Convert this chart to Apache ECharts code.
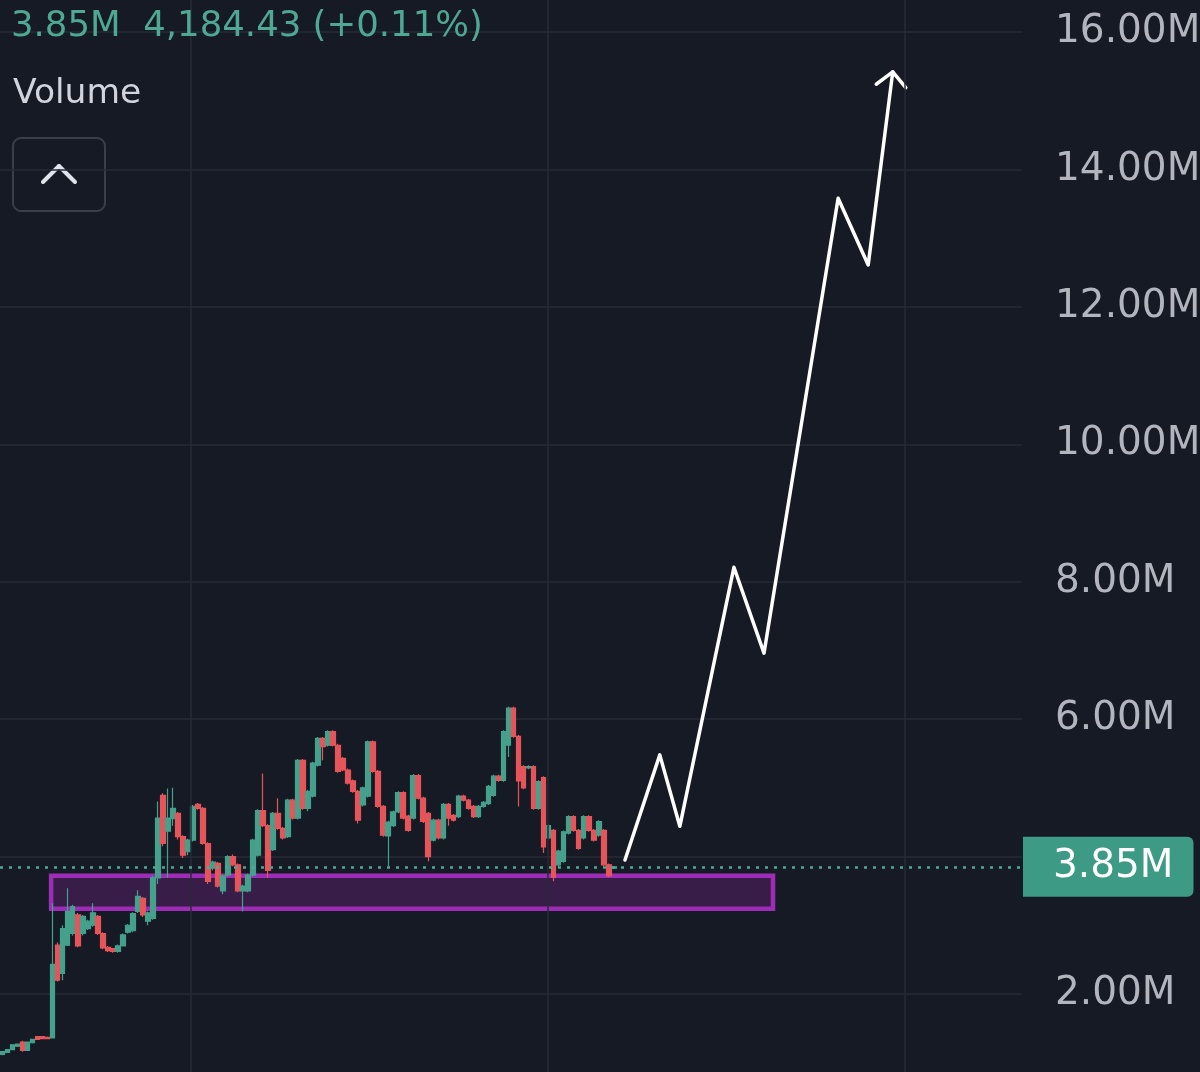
<!DOCTYPE html>
<html>
<head>
<meta charset="utf-8">
<script src="https://cdn.jsdelivr.net/npm/echarts@6/dist/echarts.min.js"></script>
<style>
html,body{margin:0;padding:0;background:#161a25;}
#chart{width:1200px;height:1072px;}
</style>
</head>
<body>
<div id="chart"></div>
<script>
// ---- data (values in millions) ----
// candles: [open, close, low, high]
const ohlc = [
[1.12,1.16,1.11,1.17],[1.15,1.19,1.14,1.20],[1.19,1.26,1.18,1.27],[1.24,1.27,1.23,1.28],
[1.30,1.18,1.16,1.32],[1.18,1.30,1.17,1.31],[1.29,1.34,1.28,1.35],[1.38,1.34,1.33,1.39],
[1.38,1.35,1.34,1.38],[1.37,1.35,1.34,1.38],[1.36,2.43,1.36,3.32],[2.71,2.20,2.18,2.75],
[2.30,2.95,2.20,3.00],[2.71,3.20,2.70,3.54],[2.88,3.27,2.85,3.30],[3.15,2.70,2.68,3.18],
[2.88,3.13,2.85,3.15],[2.95,3.06,2.93,3.08],[3.00,3.18,2.98,3.32],[3.13,2.88,2.86,3.15],
[2.88,2.67,2.65,2.90],[2.68,2.63,2.61,2.70],[2.66,2.62,2.60,2.67],[2.62,2.70,2.60,2.72],
[2.70,2.86,2.69,2.88],[2.90,3.00,2.88,3.02],[2.92,3.17,2.90,3.19],[3.20,3.42,3.18,3.51],
[3.39,3.15,3.12,3.41],[3.06,3.18,3.00,3.20],[3.10,3.69,3.08,3.72],[3.69,4.56,3.60,4.80],
[4.89,4.19,4.15,4.92],[4.37,4.56,3.69,4.99],[4.55,4.70,4.45,5.00],[4.63,4.29,4.25,4.65],
[4.29,4.02,3.98,4.31],[4.07,4.24,4.02,4.26],[4.24,4.73,4.22,4.75],[4.76,4.70,4.68,4.78],
[4.70,4.19,4.17,4.72],[4.19,3.64,3.60,4.21],[3.83,3.92,3.80,3.94],[3.90,3.57,3.55,3.92],
[3.50,3.72,3.45,3.74],[3.73,4.00,3.71,4.02],[4.00,3.88,3.86,4.03],[3.88,3.50,3.48,3.90],
[3.50,3.57,3.20,3.59],[3.50,3.73,3.48,3.75],[3.73,4.24,3.71,4.26],[4.02,4.67,4.00,4.69],
[4.67,4.45,4.43,5.21],[4.45,3.80,3.69,4.47],[4.10,4.63,4.08,4.65],[4.63,4.41,4.39,4.85],
[4.41,4.27,4.25,4.43],[4.29,4.82,4.27,4.84],[4.82,4.56,4.54,4.84],[4.56,5.40,4.54,5.42],
[5.40,4.70,4.68,5.42],[4.70,4.95,4.66,4.97],[4.88,5.36,4.86,5.38],[5.33,5.72,5.31,5.74],
[5.72,5.60,5.40,5.74],[5.62,5.82,5.60,5.84],[5.82,5.62,5.60,5.84],[5.62,5.24,5.22,5.64],
[5.43,5.26,5.24,5.45],[5.26,5.07,5.05,5.28],[5.10,4.95,4.93,5.12],[4.95,4.53,4.48,4.97],
[4.75,5.00,4.73,5.02],[4.88,5.67,4.86,5.69],[5.67,5.24,5.22,5.69],[5.24,4.73,4.71,5.26],
[4.73,4.31,4.29,4.75],[4.30,4.50,3.86,4.52],[4.45,4.65,4.43,4.67],[4.65,4.93,4.63,4.95],
[4.93,4.56,4.54,4.95],[4.59,4.38,4.36,4.61],[4.56,5.18,4.54,5.20],[5.18,4.85,4.83,5.20],
[4.85,4.51,4.49,4.87],[4.63,4.00,3.93,4.65],[4.24,4.53,4.22,4.55],[4.53,4.27,4.25,4.55],
[4.27,4.76,4.25,4.78],[4.76,4.56,4.45,4.78],[4.60,4.53,4.51,4.62],[4.58,4.88,4.56,4.90],
[4.88,4.82,4.80,4.90],[4.82,4.70,4.68,4.84],[4.73,4.58,4.56,4.75],[4.58,4.73,4.56,4.75],
[4.73,4.79,4.71,4.81],[4.77,5.02,4.75,5.04],[4.89,5.17,4.87,5.19],[5.17,5.11,5.09,5.19],
[5.11,5.82,5.09,5.84],[5.62,6.16,5.45,6.18],[6.16,5.75,5.73,6.18],[5.75,5.10,4.73,5.77],
[5.31,5.00,4.98,5.33],[5.29,5.31,5.27,5.33],[5.31,4.70,4.68,5.33],[4.70,5.09,4.68,5.11],
[5.15,4.14,4.05,5.17],[4.27,4.45,4.25,4.47],[4.38,3.70,3.64,4.40],[3.88,4.08,3.84,4.10],
[3.93,4.36,3.91,4.38],[4.34,4.58,4.32,4.60],[4.58,4.38,4.36,4.60],[4.38,4.12,4.10,4.40],
[4.27,4.58,4.25,4.60],[4.58,4.38,4.36,4.60],[4.38,4.24,4.22,4.40],[4.31,4.51,4.29,4.53],
[4.38,3.88,3.86,4.40],[3.88,3.72,3.70,3.90],[3.83,3.85,3.82,3.86]
];
const slotCount = 204;                       // bar slots on the time axis
const categories = Array.from({length: slotCount}, (_, i) => String(i));
const yTicks = [2, 4, 6, 8, 10, 12, 14, 16];
const lastValue = 3.85;
// projected path (slot index, value)
const arrowPath = [[124.25,3.95],[131.2,5.48],[135.2,4.44],[146.0,8.21],[152.0,6.96],[166.8,13.58],[172.8,12.61],[177.7,15.42]];
const arrowHead = [[174.4,15.24],[177.7,15.42],[180.3,15.19]];
// support zone: slot range and value range
const zoneX = [9.7, 153.8];
const zoneY = [3.72, 3.24];
// vertical time grid lines (slot positions)
const vGridSlots = [37.6, 108.9, 180.0];

const UP = '#45a08c', DOWN = '#e5555a';
const FONT = 'DejaVu Sans';
const GRID = '#272b36';
const chart = echarts.init(document.getElementById('chart'), null, {renderer: 'canvas'});
chart.setOption({
  backgroundColor: '#161a25',
  animation: false,
  grid: {left: 0, right: 178, top: -105.4, bottom: -59.4, containLabel: false, outerBoundsMode: 'none'},
  xAxis: [{
    type: 'category', data: categories, boundaryGap: true,
    axisLine: {show: false}, axisTick: {show: false}, axisLabel: {show: false},
    splitLine: {show: false}
  }, {
    type: 'value', min: -0.5, max: slotCount - 0.5, show: false
  }],
  yAxis: {
    type: 'value', position: 'right', min: 0, max: 18, interval: 2,
    axisLine: {show: false}, axisTick: {show: false},
    splitLine: {lineStyle: {color: GRID, width: 1.5}},
    axisLabel: {
      margin: 33, fontSize: 39, fontFamily: FONT, color: '#b2b5be',
      formatter: (v) => yTicks.indexOf(v) >= 0 ? v.toFixed(2) + 'M' : ''
    }
  },
  series: [{
    type: 'line', xAxisIndex: 1, data: [], z: 1, silent: true,
    markLine: {
      silent: true, symbol: 'none', label: {show: false},
      lineStyle: {color: GRID, width: 1.5, type: 'solid'},
      data: vGridSlots.map(v => ({xAxis: v}))
    },
    markArea: {
      silent: true,
      itemStyle: {color: 'rgba(156,39,176,0.25)', borderColor: '#9d2cb6', borderWidth: 4.5},
      data: [[{coord: [zoneX[0], zoneY[0]]}, {coord: [zoneX[1], zoneY[1]]}]]
    }
  }, {
    type: 'candlestick', xAxisIndex: 0, data: ohlc, z: 3, barWidth: 5.2,
    itemStyle: {color: UP, color0: DOWN, borderColor: UP, borderColor0: DOWN, borderWidth: 1.2},
    markLine: {
      silent: true, symbol: 'none', animation: false,
      lineStyle: {type: [3, 6], color: '#4fa893', width: 2.5},
      label: {
        position: 'end', distance: 1, formatter: lastValue.toFixed(2) + 'M',
        fontSize: 39, fontFamily: FONT, color: '#ffffff', lineHeight: 40,
        backgroundColor: '#3d9a84', padding: [10, 20, 10, 30], borderRadius: [0, 6, 6, 0]
      },
      data: [{yAxis: lastValue}]
    }
  }, {
    type: 'line', xAxisIndex: 1, data: arrowPath, z: 4, symbol: 'none', silent: true,
    lineStyle: {color: '#ffffff', width: 3.5, join: 'round', cap: 'round'}
  }, {
    type: 'line', xAxisIndex: 1, data: arrowHead, z: 4, symbol: 'none', silent: true,
    lineStyle: {color: '#ffffff', width: 3.5, join: 'round', cap: 'round'}
  }],
  graphic: [
    {type: 'text', z: 10, x: 11, y: 27, style: {text: '3.85M  4,184.43 (+0.11%)', fill: '#4fa893', font: '35.5px "DejaVu Sans"', verticalAlign: 'middle', align: 'left'}},
    {type: 'text', z: 10, x: 13, y: 94, style: {text: 'Volume', fill: '#d1d4dc', font: '34.5px "DejaVu Sans"', verticalAlign: 'middle', align: 'left'}},
    {type: 'rect', shape: {x: 13, y: 138, width: 92, height: 73, r: 8}, style: {fill: 'rgba(0,0,0,0)', stroke: '#3b3f4a', lineWidth: 2}},
    {type: 'line', shape: {x1: 43, y1: 182, x2: 59, y2: 166}, style: {stroke: '#e0e3eb', lineWidth: 4, lineCap: 'round'}},
    {type: 'line', shape: {x1: 59, y1: 166, x2: 75, y2: 182}, style: {stroke: '#e0e3eb', lineWidth: 4, lineCap: 'round'}}
  ]
});
</script>
</body>
</html>
